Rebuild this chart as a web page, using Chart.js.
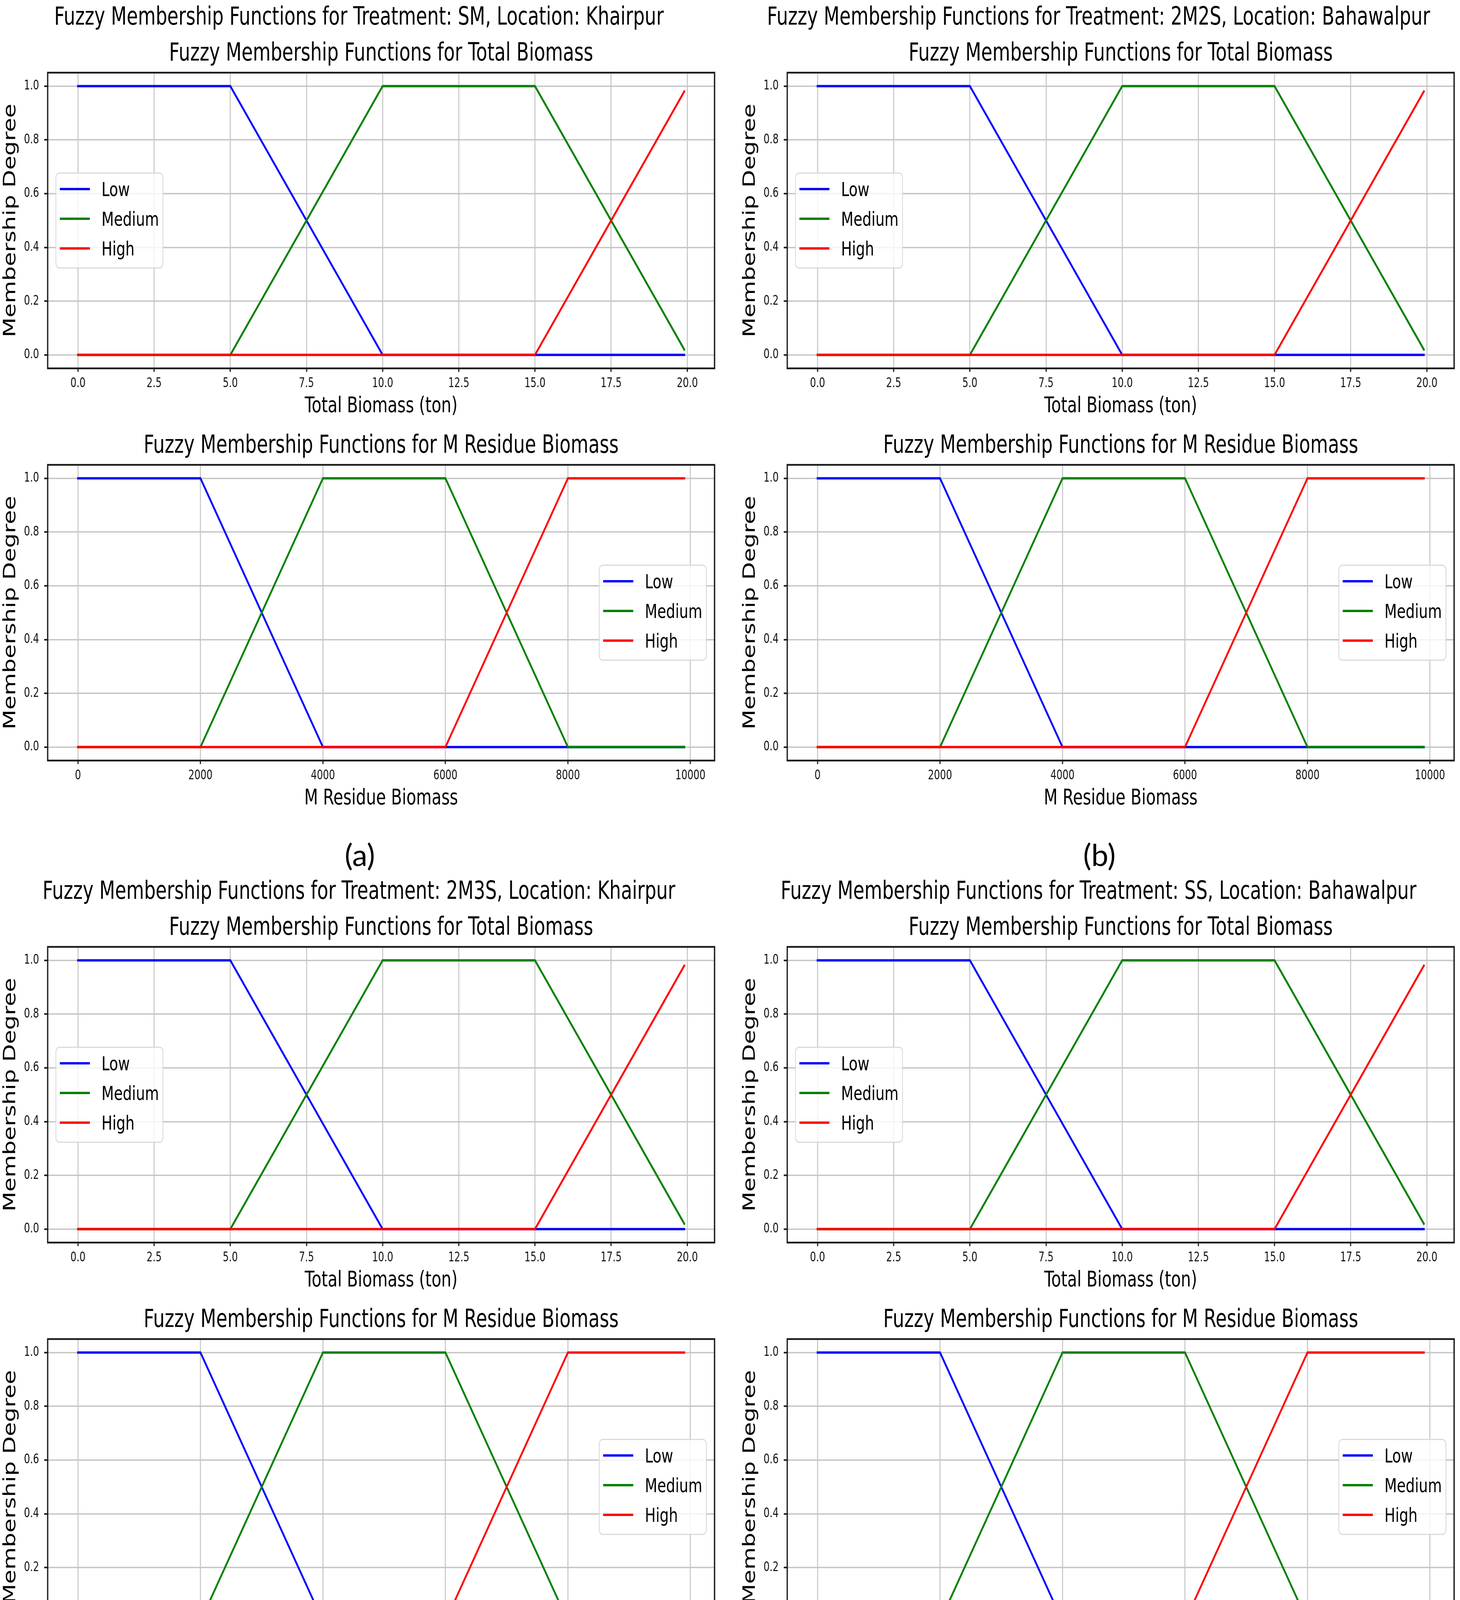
<!DOCTYPE html>
<html>
<head>
<meta charset="utf-8">
<title>Fuzzy Membership Functions</title>
<script src="https://cdn.jsdelivr.net/npm/chart.js@4.4.1/dist/chart.umd.min.js"></script>
<style>
  html, body { margin: 0; padding: 0; background: #fff; }
  #page { position: relative; width: 3737px; height: 4488px; overflow: hidden; background: #fff; }
  .fig { position: absolute; width: 2540px; height: 2100px; transform: scaleX(0.735); transform-origin: 0 0; }
  .fig canvas { position: absolute; left: 0; }
  .head { position: absolute; left: 0; top: 9.5px; width: 2500px; text-align: center;
          font: 63.5px/1 "DejaVu Sans"; color: #000; white-space: nowrap; }
  .tag { position: absolute; width: 300px; text-align: center; font: 78px/1 Lato; color: #000; }
</style>
</head>
<body>
<div id="page"></div>
<script>
const treatments = ['SM', '2M2S', '2M3S', 'SS'];
const locations = ['Khairpur', 'Bahawalpur', 'Khairpur', 'Bahawalpur'];
const panelTags = ['(a)', '(b)', '(c)', '(d)'];
const seriesNames = ['Low', 'Medium', 'High'];
const seriesColors = ['blue', 'green', 'red'];

// breakpoints: x position, membership degree
const totalLowX = [0, 5, 10, 19.9];
const totalLowY = [1, 1, 0, 0];
const totalMedX = [0, 5, 10, 15, 19.9];
const totalMedY = [0, 0, 1, 1, 0.02];
const totalHighX = [0, 15, 19.9];
const totalHighY = [0, 0, 0.98];

const residueLowX = [0, 2000, 4000, 9900];
const residueLowY = [1, 1, 0, 0];
const residueMedX = [0, 2000, 4000, 6000, 8000, 9900];
const residueMedY = [0, 0, 1, 1, 0, 0];
const residueHighX = [0, 6000, 8000, 9900];
const residueHighY = [0, 0, 1, 1];

const totalTicks = [0, 2.5, 5, 7.5, 10, 12.5, 15, 17.5, 20];
const residueTicks = [0, 2000, 4000, 6000, 8000, 10000];
const degreeTicks = [0, 0.2, 0.4, 0.6, 0.8, 1.0];

const FONT = 'DejaVu Sans';

// spines all round + legend box inside the axes
const frameLegend = {
  id: 'frameLegend',
  afterDraw(chart, args, opts) {
    const ctx = chart.ctx, a = chart.chartArea;
    ctx.save();
    ctx.strokeStyle = '#1a1a1a';
    ctx.lineWidth = 4.5;
    ctx.strokeRect(a.left, a.top, a.right - a.left, a.bottom - a.top);

    const w = 373, h = 243, gap = 28.6;
    const x0 = opts.side === 'right' ? a.right - gap - w : a.left + gap;
    const y0 = (a.top + a.bottom) / 2 - h / 2;
    ctx.beginPath();
    ctx.roundRect(x0, y0, w, h, 12);
    ctx.fillStyle = 'rgba(255,255,255,0.8)';
    ctx.fill();
    ctx.strokeStyle = '#d4d4d4';
    ctx.lineWidth = 2.5;
    ctx.stroke();

    ctx.font = '50px "' + FONT + '"';
    ctx.textAlign = 'left';
    ctx.textBaseline = 'alphabetic';
    chart.data.datasets.forEach((ds, i) => {
      const y = y0 + 41 + i * 76;
      ctx.strokeStyle = ds.borderColor;
      ctx.lineWidth = 6;
      ctx.beginPath();
      ctx.moveTo(x0 + 13.6, y);
      ctx.lineTo(x0 + 118.4, y);
      ctx.stroke();
      ctx.fillStyle = '#000';
      ctx.fillText(ds.label, x0 + 159, y + 18);
    });
    ctx.restore();
  }
};

function makeChart(canvas, cfg) {
  const datasets = seriesNames.map((name, i) => ({
    label: name,
    data: cfg.xs[i].map((x, j) => ({ x: x, y: cfg.ys[i][j] })),
    borderColor: seriesColors[i],
    backgroundColor: seriesColors[i],
    borderWidth: 6,
    borderCapStyle: 'square',
    pointRadius: 0,
    tension: 0,
    fill: false,
    order: 3 - i
  }));
  const lo = cfg.xs[0][0], hi = cfg.xs[0][cfg.xs[0].length - 1];
  const m = (hi - lo) * 0.05;

  return new Chart(canvas, {
    type: 'line',
    data: { datasets: datasets },
    plugins: [frameLegend],
    options: {
      responsive: false,
      animation: false,
      devicePixelRatio: 1,
      layout: { padding: { left: 0, right: 51.6, top: 0, bottom: 0 } },
      plugins: {
        legend: { display: false },
        tooltip: { enabled: false },
        title: {
          display: true, text: cfg.title, fullSize: false, color: '#000',
          font: { family: FONT, size: 63.5, weight: 'normal' },
          padding: { top: 12.4, bottom: 9.4 }
        },
        frameLegend: { side: cfg.legendSide }
      },
      scales: {
        x: {
          type: 'linear', min: lo - m, max: hi + m,
          afterBuildTicks: s => { s.ticks = cfg.ticks.map(v => ({ value: v })); },
          afterFit: s => { s.height = 136; },
          border: { display: false },
          grid: { color: '#c6c6c6', lineWidth: 3.5, drawTicks: true, tickLength: 9,
                  tickColor: '#1a1a1a', tickWidth: 4 },
          ticks: { autoSkip: false, maxRotation: 0, minRotation: 0, padding: 11, color: '#111',
                   font: { family: FONT, size: 33 }, callback: v => cfg.fmt(v) },
          title: { display: true, text: cfg.xTitle, color: '#000',
                   font: { family: FONT, size: 55.5 }, padding: { top: 0, bottom: 5 } }
        },
        y: {
          type: 'linear', min: -0.05, max: 1.05,
          afterBuildTicks: s => { s.ticks = degreeTicks.map(v => ({ value: v })); },
          afterFit: s => { s.width = 166; },
          border: { display: false },
          grid: { color: '#c6c6c6', lineWidth: 3.5, drawTicks: true, tickLength: 12,
                  tickColor: '#1a1a1a', tickWidth: 4 },
          ticks: { padding: 18, color: '#111', font: { family: FONT, size: 33 },
                   callback: v => v.toFixed(1) },
          title: { display: true, text: 'Membership Degree', color: '#000',
                   font: { family: FONT, size: 59 }, padding: { top: 2.7, bottom: 0 } }
        }
      }
    }
  });
}

const page = document.getElementById('page');
treatments.forEach((t, p) => {
  const col = p % 2, row = Math.floor(p / 2);
  const fig = document.createElement('div');
  fig.className = 'fig';
  fig.style.left = (col * 1893) + 'px';
  fig.style.top = (row * 2238) + 'px';
  page.appendChild(fig);

  const head = document.createElement('div');
  head.className = 'head';
  head.textContent = 'Fuzzy Membership Functions for Treatment: ' + t + ', Location: ' + locations[p];
  fig.appendChild(head);

  const c1 = document.createElement('canvas');
  c1.width = 2540; c1.height = 991; c1.style.top = '88px';
  fig.appendChild(c1);
  const c2 = document.createElement('canvas');
  c2.width = 2540; c2.height = 991; c2.style.top = '1092px';
  fig.appendChild(c2);

  makeChart(c1, {
    title: 'Fuzzy Membership Functions for Total Biomass',
    xTitle: 'Total Biomass (ton)',
    xs: [totalLowX, totalMedX, totalHighX],
    ys: [totalLowY, totalMedY, totalHighY],
    ticks: totalTicks,
    fmt: v => v.toFixed(1),
    legendSide: 'left'
  });
  makeChart(c2, {
    title: 'Fuzzy Membership Functions for M Residue Biomass',
    xTitle: 'M Residue Biomass',
    xs: [residueLowX, residueMedX, residueHighX],
    ys: [residueLowY, residueMedY, residueHighY],
    ticks: residueTicks,
    fmt: v => String(v),
    legendSide: 'right'
  });

  const tag = document.createElement('div');
  tag.className = 'tag';
  tag.textContent = panelTags[p];
  tag.style.left = (921 + col * 1893 - 150) + 'px';
  tag.style.top = (2148 + row * 2238) + 'px';
  page.appendChild(tag);
});
</script>
</body>
</html>
